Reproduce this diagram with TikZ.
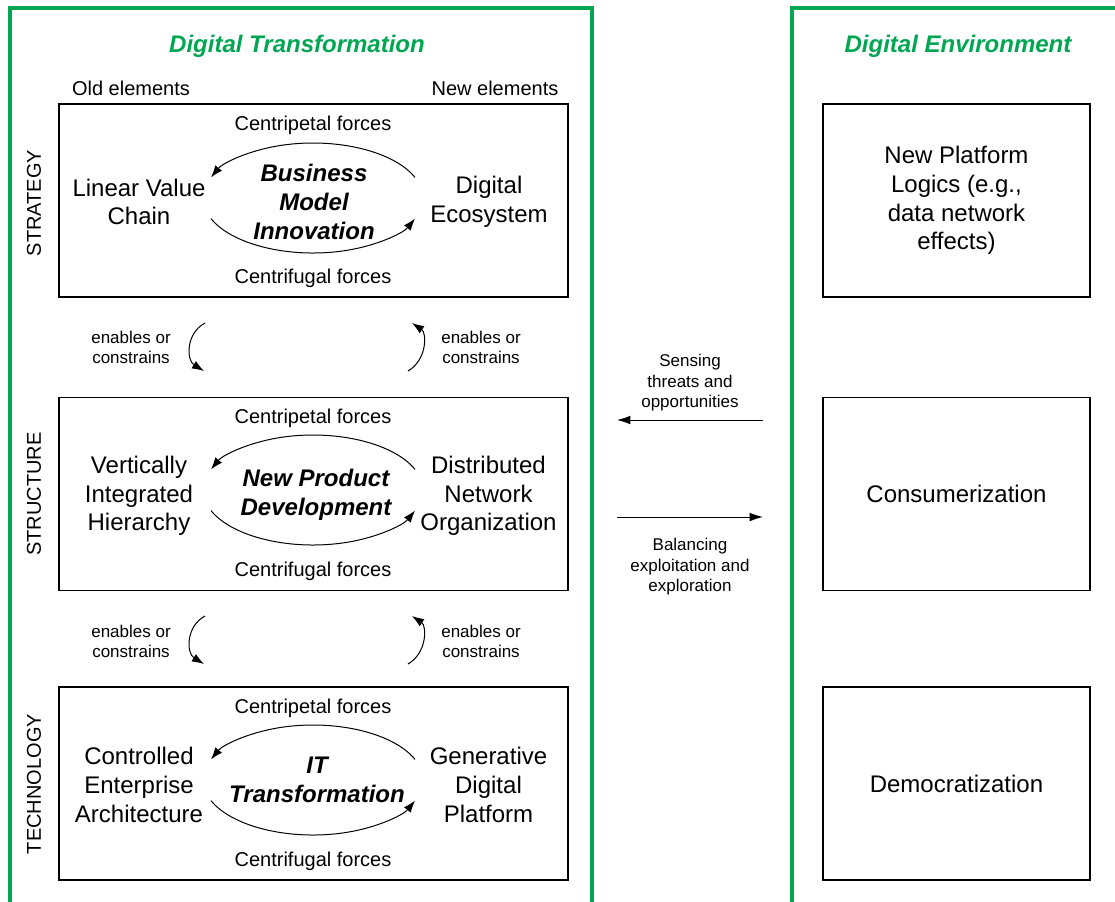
\documentclass[tikz,border=0pt]{standalone}
\usepackage{fontspec}
\setmainfont{Liberation Sans}
\usetikzlibrary{arrows.meta,positioning,calc}
\definecolor{dtgreen}{RGB}{0,166,81}

\begin{document}
\begin{tikzpicture}[x=0.75pt,y=-0.75pt,
  maintxt/.style={font=\fontsize{18}{21.5}\selectfont,align=center,inner sep=0pt,yshift=-1.5pt},
  coretxt/.style={font=\fontsize{18}{21.5}\selectfont\bfseries\itshape,align=center,inner sep=0pt,yshift=-1.5pt},
  hdr/.style={font=\fontsize{18}{21.5}\selectfont\bfseries\itshape,text=dtgreen,inner sep=0pt,yshift=-1.5pt},
  lbl/.style={font=\fontsize{15}{18}\selectfont,inner sep=0pt,yshift=-1.5pt},
  side/.style={font=\fontsize{15}{18}\selectfont,inner sep=0pt,rotate=90},
  smalltxt/.style={font=\fontsize{12.75}{15.3}\selectfont,align=center,inner sep=0pt,yshift=-1.2pt},
  layerbox/.style={draw,line width=0.8pt,minimum width=381.75pt,minimum height=144.75pt},
  envbox/.style={draw,line width=0.8pt,minimum width=200.25pt,minimum height=144.75pt,
    font=\fontsize{18}{21.5}\selectfont,align=center},
  greenframe/.style={draw=dtgreen,line width=2.3pt},
  cyc/.style={line width=0.75pt,-{Latex[length=9pt,width=6.5pt]}},
  flow/.style={line width=0.75pt,-{Latex[length=10pt,width=6.5pt]}}]
  \useasboundingbox (0,0) rectangle (1115,901);

  % frames
  \draw[greenframe] (10,910) -- (10,8) -- (592,8) -- (592,910);
  \draw[greenframe] (792,910) -- (792,8) -- (1125,8);
  \node[hdr] (dt) at (297,44) {Digital Transformation};
  \node[hdr] (de) at (958,44) {Digital Environment};
  \node[lbl] (old) at (131,86) {Old elements};
  \node[lbl] (new) at (495,86) {New elements};

  % layers
  \node[layerbox] (strat) at (313.5,200.5) {};
  \node[layerbox] (struc) at (313.5,494) {};
  \node[layerbox] (tech)  at (313.5,783.5) {};
  \node[side] (lstrat) at (34,203) {STRATEGY};
  \node[side] (lstruc) at (34,494) {STRUCTURE};
  \node[side] (ltech)  at (34,784) {TECHNOLOGY};

  % strategy
  \node[lbl] (cp1) at (313,123) {Centripetal forces};
  \node[lbl] (cf1) at (313,276) {Centrifugal forces};
  \node[maintxt] (lvc) at (139,200) {Linear Value\\Chain};
  \node[maintxt] (eco) at (489,200) {Digital\\Ecosystem};
  \node[coretxt] (bmi) at (314,200) {Business\\Model\\Innovation};
  \coordinate (c1) at (313,198);
  \draw[cyc] ($(c1)+(102,-20.6)$) arc[start angle=-22,end angle=-158,x radius=110,y radius=55];
  \draw[cyc] ($(c1)+(-102,20.6)$) arc[start angle=158,end angle=22,x radius=110,y radius=55];

  % structure
  \node[lbl] (cp2) at (313,416) {Centripetal forces};
  \node[lbl] (cf2) at (313,569) {Centrifugal forces};
  \node[maintxt] (vih) at (139,494) {Vertically\\Integrated\\Hierarchy};
  \node[maintxt] (dno) at (488.5,494) {Distributed\\Network\\Organization};
  \node[coretxt] (npd) at (316,493) {New Product\\Development};
  \coordinate (c2) at (313,490);
  \draw[cyc] ($(c2)+(102,-20.6)$) arc[start angle=-22,end angle=-158,x radius=110,y radius=55];
  \draw[cyc] ($(c2)+(-102,20.6)$) arc[start angle=158,end angle=22,x radius=110,y radius=55];

  % technology
  \node[lbl] (cp3) at (313,706) {Centripetal forces};
  \node[lbl] (cf3) at (313,859) {Centrifugal forces};
  \node[maintxt] (cea) at (139,783) {Controlled\\Enterprise\\Architecture};
  \node[maintxt] (gdp) at (488.5,783) {Generative\\Digital\\Platform};
  \node[coretxt] (itt) at (317,778) {IT\\Transformation};
  \coordinate (c3) at (313,780);
  \draw[cyc] ($(c3)+(102,-20.6)$) arc[start angle=-22,end angle=-158,x radius=110,y radius=55];
  \draw[cyc] ($(c3)+(-102,20.6)$) arc[start angle=158,end angle=22,x radius=110,y radius=55];

  % enables or constrains
  \node[smalltxt] (en1) at (131,346) {enables or\\constrains};
  \node[smalltxt] (en2) at (481,346) {enables or\\constrains};
  \node[smalltxt] (en3) at (131,640) {enables or\\constrains};
  \node[smalltxt] (en4) at (481,640) {enables or\\constrains};
  \coordinate (ea1) at (205,323); \coordinate (eb1) at (204,371);
  \coordinate (ea2) at (408,371); \coordinate (eb2) at (412,323);
  \coordinate (ea3) at (205,616); \coordinate (eb3) at (204,664);
  \coordinate (ea4) at (408,664); \coordinate (eb4) at (412,616);
  \draw[cyc] (ea1) .. controls ($(ea1)+(-19,10)$) and ($(eb1)+(-18,-11)$) .. (eb1);
  \draw[cyc] (ea2) .. controls ($(ea2)+(19,-11)$) and ($(eb2)+(15,10)$) .. (eb2);
  \draw[cyc] (ea3) .. controls ($(ea3)+(-19,10)$) and ($(eb3)+(-18,-11)$) .. (eb3);
  \draw[cyc] (ea4) .. controls ($(ea4)+(19,-11)$) and ($(eb4)+(15,10)$) .. (eb4);

  % environment
  \node[envbox] (platf) at (956.5,200.5) {New Platform\\Logics (e.g.,\\data network\\effects)};
  \node[envbox] (cons)  at (956.5,494) {Consumerization};
  \node[envbox] (democ) at (956.5,783.5) {Democratization};

  % sensing and balancing
  \node[smalltxt] (sense) at (690,381) {Sensing\\threats and\\opportunities};
  \node[smalltxt] (bal) at (690,565) {Balancing\\exploitation and\\exploration};
  \coordinate (sa) at (763,420); \coordinate (sb) at (617,420);
  \coordinate (ba) at (617,517); \coordinate (bb) at (763,517);
  \draw[flow] (sa) -- (sb);
  \draw[flow] (ba) -- (bb);
\end{tikzpicture}
\end{document}
